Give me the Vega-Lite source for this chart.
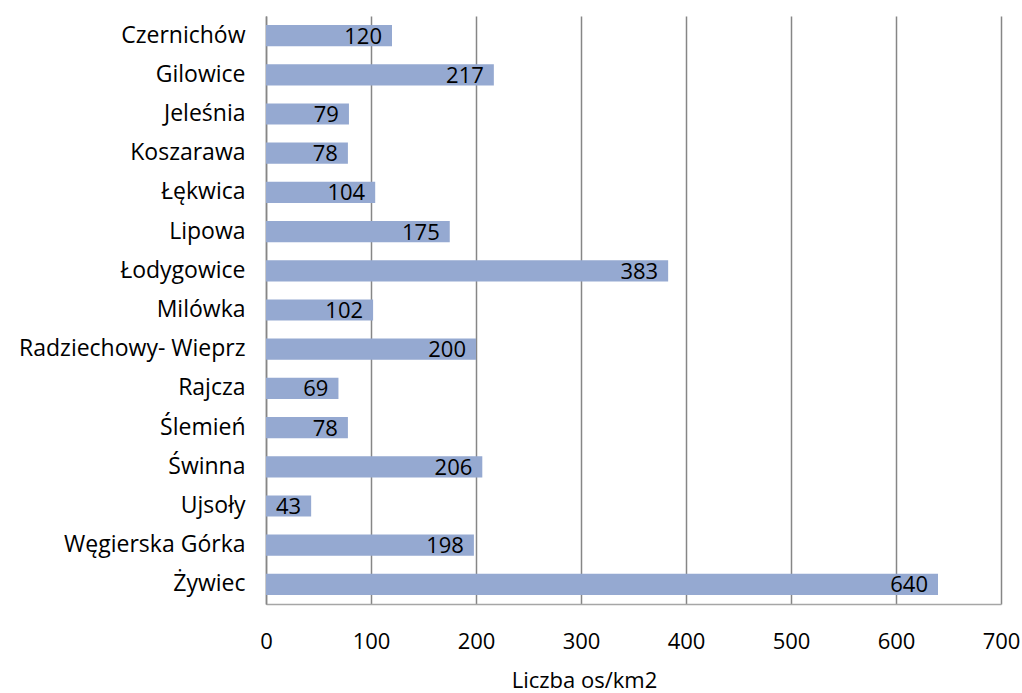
{
  "$schema": "https://vega.github.io/schema/vega-lite/v6.json",
  "width": 735,
  "height": 588,
  "autosize": "none",
  "padding": {"left": 266, "top": 16, "right": 21, "bottom": 89},
  "background": "white",
  "config": {
    "view": {"stroke": null},
    "font": "Open Sans"
  },
  "data": {
    "values": [
      {"gmina": "Czernichów", "gestosc": 120},
      {"gmina": "Gilowice", "gestosc": 217},
      {"gmina": "Jeleśnia", "gestosc": 79},
      {"gmina": "Koszarawa", "gestosc": 78},
      {"gmina": "Łękwica", "gestosc": 104},
      {"gmina": "Lipowa", "gestosc": 175},
      {"gmina": "Łodygowice", "gestosc": 383},
      {"gmina": "Milówka", "gestosc": 102},
      {"gmina": "Radziechowy- Wieprz", "gestosc": 200},
      {"gmina": "Rajcza", "gestosc": 69},
      {"gmina": "Ślemień", "gestosc": 78},
      {"gmina": "Świnna", "gestosc": 206},
      {"gmina": "Ujsoły", "gestosc": 43},
      {"gmina": "Węgierska Górka", "gestosc": 198},
      {"gmina": "Żywiec", "gestosc": 640}
    ]
  },
  "encoding": {
    "y": {
      "field": "gmina",
      "type": "nominal",
      "sort": null,
      "scale": {"paddingInner": 0.46, "paddingOuter": 0.23},
      "axis": {
        "title": null,
        "ticks": false,
        "domainColor": "#868686",
        "domainWidth": 1.5,
        "labelFont": "Open Sans",
        "labelFontSize": 23,
        "labelColor": "#000000",
        "labelPadding": 21,
        "labelLimit": 300
      }
    },
    "x": {
      "field": "gestosc",
      "type": "quantitative",
      "scale": {"domain": [0, 700], "nice": false},
      "axis": {
        "values": [0, 100, 200, 300, 400, 500, 600, 700],
        "title": "Liczba os/km2",
        "titleFont": "Open Sans",
        "titleFontSize": 22,
        "titleFontWeight": "normal",
        "titleColor": "#000000",
        "titleX": 318,
        "titleY": 76,
        "titleBaseline": "middle",
        "titleAnchor": "middle",
        "ticks": false,
        "domainColor": "#A6A6A6",
        "domainWidth": 1.5,
        "grid": true,
        "gridColor": "#868686",
        "gridWidth": 1.5,
        "labelFont": "Open Sans",
        "labelFontSize": 22,
        "labelColor": "#000000",
        "labelPadding": 27,
        "labelFlush": false
      }
    }
  },
  "layer": [
    {
      "mark": {"type": "bar", "color": "#95A9D1"}
    },
    {
      "mark": {
        "type": "text",
        "align": "right",
        "baseline": "middle",
        "dx": -10,
        "dy": 1,
        "font": "Open Sans",
        "fontSize": 22,
        "color": "#000000"
      },
      "encoding": {
        "text": {"field": "gestosc", "type": "quantitative"}
      }
    }
  ]
}
